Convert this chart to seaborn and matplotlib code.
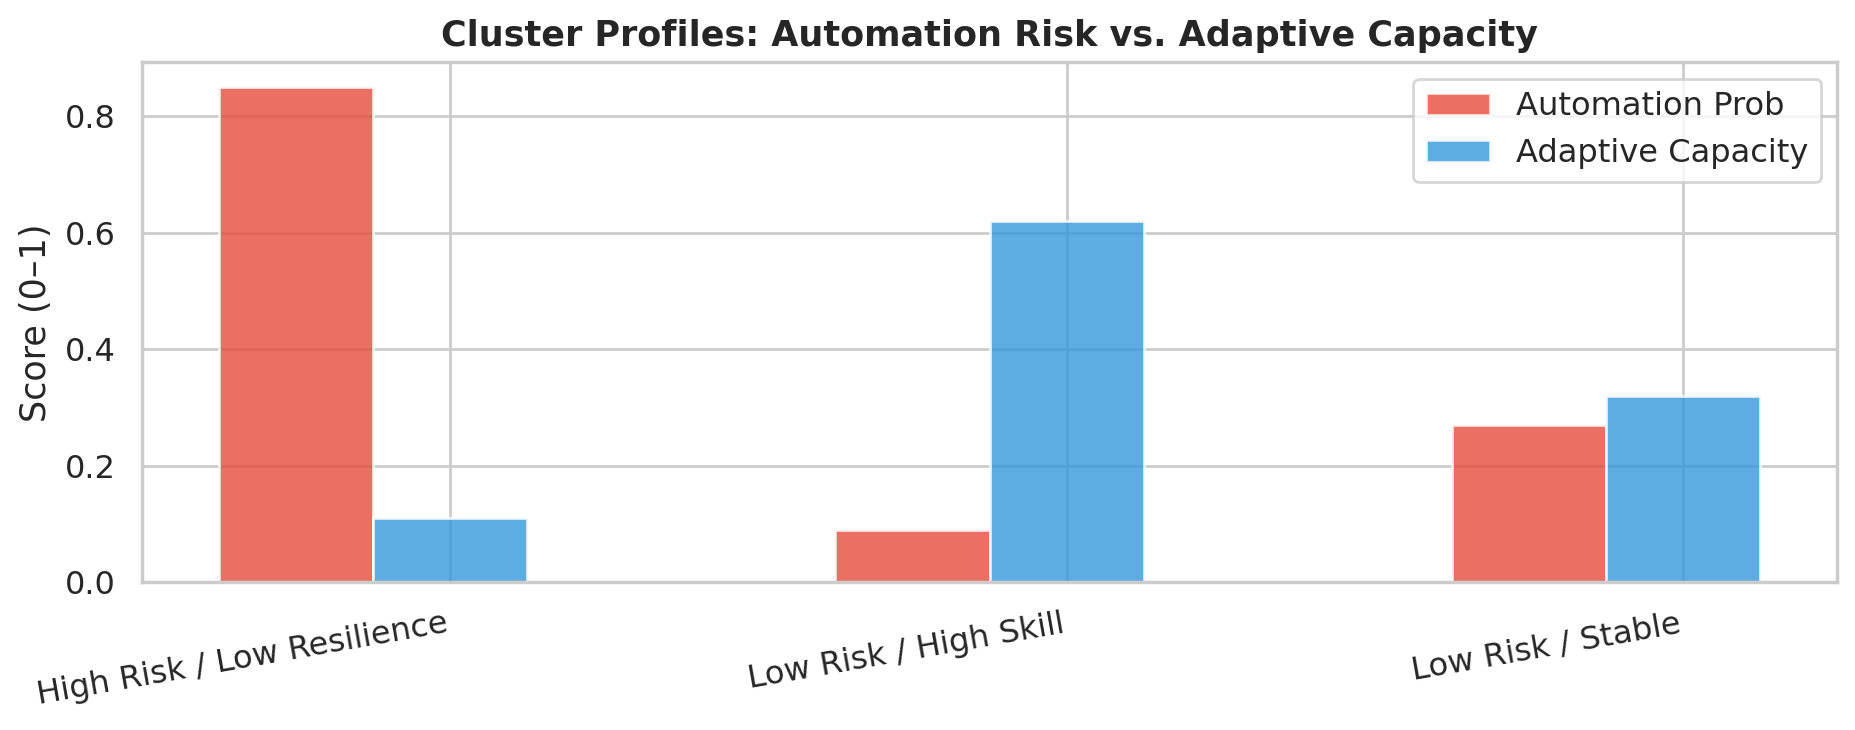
import numpy as np
import matplotlib
matplotlib.use("Agg")
import matplotlib.pyplot as plt
import seaborn as sns

clusters = ["High Risk / Low Resilience", "Low Risk / High Skill", "Low Risk / Stable"]
automation_prob = [0.85, 0.09, 0.27]
adaptive_capacity = [0.11, 0.62, 0.32]
series_names = ["Automation Prob", "Adaptive Capacity"]

sns.set_theme(style="whitegrid", context="notebook", font_scale=1.05)

fig, ax = plt.subplots(figsize=(9.28, 3.65), dpi=200)
fig.subplots_adjust(left=0.0765, right=0.9898, top=0.9144, bottom=0.2027)

x = np.arange(len(clusters))
w = 0.25
ax.bar(x - w, automation_prob, w, color="#e74c3c", alpha=0.8, edgecolor="white",
       linewidth=1, label=series_names[0])
ax.bar(x, adaptive_capacity, w, color="#3498db", alpha=0.8, edgecolor="white",
       linewidth=1, label=series_names[1])

ax.set_xticks(x)
ax.set_xticklabels(clusters, rotation=10, ha="right")
ax.set_ylabel("Score (0–1)")
ax.set_title("Cluster Profiles: Automation Risk vs. Adaptive Capacity",
             fontweight="bold")
ax.legend(loc="upper right")

fig.savefig("out.png", dpi=200)
